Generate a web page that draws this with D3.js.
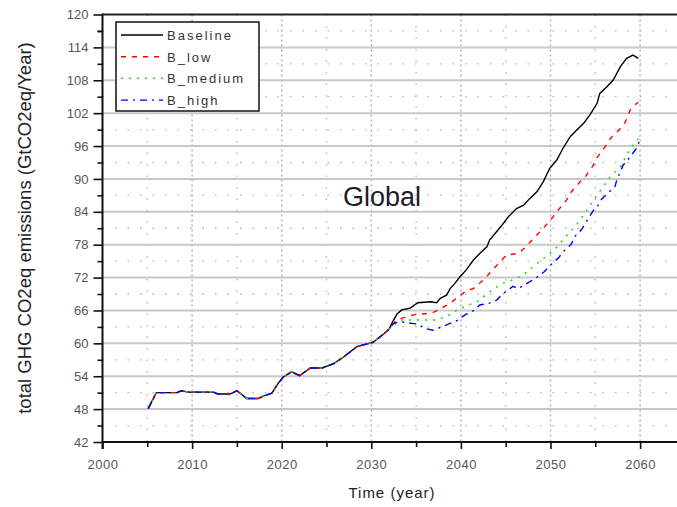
<!DOCTYPE html>
<html>
<head>
<meta charset="utf-8">
<script src="https://cdn.jsdelivr.net/npm/d3@7"></script>
<style>
  html, body { margin: 0; padding: 0; background: #fff; }
  svg { display: block; font-family: "Liberation Sans", Arial, sans-serif; }
</style>
</head>
<body>
<svg id="chart" width="677" height="507"></svg>
<script>
// ---------- data ----------
const historyYears  = [2005.1, 2006.0, 2008.3, 2008.8, 2009.6, 2012.4, 2012.9, 2014.2, 2015.0, 2016.1, 2017.4, 2018.0, 2018.9, 2019.6, 2020.2, 2021.1, 2022.0, 2023.2, 2024.5, 2025.8, 2026.9, 2028.4, 2030.2, 2031.3, 2032.0];
const historyValues = [48.1, 51.0, 51.0, 51.35, 51.1, 51.1, 50.75, 50.75, 51.35, 49.95, 49.95, 50.4, 50.9, 52.7, 53.9, 54.8, 54.1, 55.5, 55.5, 56.3, 57.5, 59.4, 60.2, 61.6, 62.6];

const baselineYears  = [2032.4, 2032.9, 2033.4, 2034.3, 2035.2, 2036.6, 2037.3, 2037.7, 2038.4, 2038.8, 2039.3, 2039.9, 2040.6, 2041.4, 2042.1, 2042.9, 2043.2, 2044.0, 2044.6, 2045.3, 2046.2, 2047.0, 2047.7, 2048.5, 2049.2, 2049.9, 2050.7, 2051.4, 2052.2, 2052.9, 2053.7, 2054.4, 2055.2, 2055.5, 2056.3, 2057.0, 2057.8, 2058.5, 2059.2, 2059.8];
const baselineValues = [64.0, 65.4, 66.1, 66.4, 67.4, 67.6, 67.4, 68.2, 68.8, 70.0, 70.9, 72.15, 73.4, 75.2, 76.4, 77.6, 78.85, 80.4, 81.6, 83.1, 84.6, 85.2, 86.45, 87.7, 89.5, 91.9, 93.45, 95.6, 97.7, 98.9, 100.15, 101.7, 103.8, 105.6, 106.8, 108.05, 110.5, 112.0, 112.6, 112.0];

const lowYears  = [2032.8, 2034.7, 2035.2, 2036.7, 2037.5, 2038.8, 2039.5, 2040.6, 2041.4, 2042.7, 2043.2, 2044.55, 2045.1, 2046.4, 2047.1, 2048.5, 2049.2, 2050.3, 2050.7, 2051.8, 2052.2, 2053.3, 2053.85, 2054.8, 2055.2, 2056.1, 2056.7, 2057.8, 2058.35, 2058.9, 2059.4, 2059.8];
const lowValues = [64.3, 65.2, 65.3, 65.5, 66.1, 67.3, 68.2, 69.6, 70.0, 71.85, 72.8, 75.2, 76.1, 76.4, 77.4, 79.8, 81.0, 83.1, 84.0, 86.15, 87.4, 89.5, 90.3, 92.55, 93.9, 95.9, 97.4, 99.2, 100.4, 102.6, 103.5, 104.0];

const mediumYears  = [2033.2, 2034.5, 2035.8, 2037.1, 2038.4, 2039.7, 2041.9, 2043.2, 2044.55, 2045.8, 2047.0, 2048.3, 2050.4, 2053.2, 2054.0, 2054.9, 2056.7, 2057.9, 2058.5, 2059.3, 2059.9];
const mediumValues = [64.25, 64.25, 64.25, 64.25, 64.85, 66.2, 67.7, 69.4, 70.9, 71.6, 72.55, 74.3, 77.0, 82.2, 84.2, 86.3, 90.5, 92.4, 94.4, 96.4, 97.5];

const highYears  = [2032.45, 2033.2, 2035.2, 2036.0, 2036.9, 2037.7, 2038.6, 2039.7, 2040.45, 2041.4, 2042.1, 2043.1, 2044.0, 2044.7, 2045.8, 2046.4, 2048.3, 2049.3, 2050.0, 2050.9, 2051.4, 2052.3, 2052.7, 2053.5, 2054.0, 2054.8, 2055.2, 2055.7, 2056.6, 2057.2, 2057.4, 2057.8, 2058.1, 2058.9, 2059.6, 2059.9];
const highValues = [63.6, 63.95, 63.5, 62.7, 62.4, 62.9, 63.5, 64.25, 65.2, 65.95, 67.0, 67.3, 67.9, 69.05, 70.4, 70.0, 71.85, 73.05, 74.3, 75.6, 76.7, 78.05, 79.45, 80.85, 82.2, 84.3, 84.9, 86.3, 87.7, 88.6, 89.8, 91.3, 92.5, 94.05, 95.6, 96.8];

const seriesNames  = ["Baseline", "B_low", "B_medium", "B_high"];
const seriesColors = ["#000000", "#ff0000", "#00dd00", "#0000ff"];
const seriesDashes = [null, "5,6", "2,6", "7,5,2,5"];

const xTickLabels = [2000, 2010, 2020, 2030, 2040, 2050, 2060];
const yTickLabels = [42, 48, 54, 60, 66, 72, 78, 84, 90, 96, 102, 108, 114, 120];

const chartTitle = "Global";
const xTitle = "Time (year)";
const yTitle = "total GHG CO2eq emissions (GtCO2eq/Year)";

// ---------- build ----------
const svg = d3.select("#chart");
const L = 102.5, T = 14.5, B = 442;
const x = d3.scaleLinear().domain([2000, 2065]).range([L, L + 65 * 8.96]);
const y = d3.scaleLinear().domain([42, 120]).range([B, T]);

const seriesYears = [baselineYears, lowYears, mediumYears, highYears];
const seriesVals  = [baselineValues, lowValues, mediumValues, highValues];
const series = seriesNames.map((n, i) => ({
  name: n,
  color: seriesColors[i],
  dash: seriesDashes[i],
  points: historyYears.map((yr, j) => [yr, historyValues[j]])
    .concat(seriesYears[i].map((yr, j) => [yr, seriesVals[i][j]]))
}));

// grid
const g = svg.append("g");
const minorY = d3.range(45, 120, 6);
const majorY = d3.range(48, 120, 6);
const majorX = d3.range(2010, 2061, 10);
const minorX = d3.range(2005, 2066, 10);

g.selectAll(".hminor").data(minorY).join("line")
  .attr("x1", L).attr("x2", 677).attr("y1", d => y(d)).attr("y2", d => y(d))
  .attr("stroke", "#b4b4b4").attr("stroke-width", 1.3).attr("stroke-dasharray", "1.5,11");
g.selectAll(".vminor").data(minorX).join("line")
  .attr("x1", d => x(d)).attr("x2", d => x(d)).attr("y1", T).attr("y2", B)
  .attr("stroke", "#b4b4b4").attr("stroke-width", 1.3).attr("stroke-dasharray", "1.5,10");
g.selectAll(".vmajor").data(majorX).join("line")
  .attr("x1", d => x(d)).attr("x2", d => x(d)).attr("y1", T).attr("y2", B)
  .attr("stroke", "#b4b4b4").attr("stroke-width", 1.5).attr("stroke-dasharray", "2,3");
g.selectAll(".hmajor").data(majorY).join("line")
  .attr("x1", L).attr("x2", 677).attr("y1", d => y(d)).attr("y2", d => y(d))
  .attr("stroke", "#c8c8c8").attr("stroke-width", 2);

// series
const line = d3.line().x(d => x(d[0])).y(d => y(d[1]));
svg.append("g").selectAll("path").data(series).join("path")
  .attr("d", d => line(d.points))
  .attr("fill", "none")
  .attr("stroke", d => d.color)
  .attr("stroke-width", 1.4)
  .attr("stroke-dasharray", d => d.dash);

// axes
const yAxis = d3.axisLeft(y).tickValues(yTickLabels).tickSize(9).tickPadding(5).tickFormat(d3.format("d"));
const yAxisMinor = d3.axisLeft(y).tickValues(minorY.concat([117])).tickSize(5).tickFormat("");
const xAxis = d3.axisBottom(x).tickValues(xTickLabels).tickSize(7).tickPadding(11).tickFormat(d3.format("d"));
const xAxisMinor = d3.axisBottom(x).tickValues(minorX).tickSize(5).tickFormat("");

function styleAxis(sel) {
  sel.select(".domain").remove();
  sel.selectAll("line").attr("stroke", "#111").attr("stroke-width", 1.6);
  sel.selectAll("text").attr("fill", "#555").style("font-size", "13px")
     .style("font-family", "'Liberation Sans', Arial, sans-serif");
}
svg.append("g").attr("transform", `translate(${L},0)`).call(yAxis).call(styleAxis);
svg.append("g").attr("transform", `translate(${L},0)`).call(yAxisMinor).call(styleAxis);
svg.append("g").attr("transform", `translate(0,${B})`).call(xAxis).call(styleAxis)
   .selectAll("text").style("letter-spacing", "0.5px");
svg.append("g").attr("transform", `translate(0,${B})`).call(xAxisMinor).call(styleAxis);

// frame lines
svg.append("line").attr("x1", L).attr("x2", L).attr("y1", T - 1).attr("y2", B + 7)
  .attr("stroke", "#111").attr("stroke-width", 2);
svg.append("line").attr("x1", L).attr("x2", 677).attr("y1", B).attr("y2", B)
  .attr("stroke", "#111").attr("stroke-width", 2);
svg.append("line").attr("x1", L).attr("x2", 677).attr("y1", T).attr("y2", T)
  .attr("stroke", "#222").attr("stroke-width", 2);

// titles
svg.append("text").attr("x", 392).attr("y", 498).attr("text-anchor", "middle")
  .style("font-size", "15px").style("letter-spacing", "1px").attr("fill", "#222").text(xTitle);
svg.append("text").attr("transform", "translate(31,228) rotate(-90)").attr("text-anchor", "middle")
  .style("font-size", "18.5px").attr("fill", "#222").text(yTitle);
svg.append("text").attr("x", 343).attr("y", 206)
  .style("font-size", "27px").attr("fill", "#1c1c2a").text(chartTitle);

// legend
const lg = svg.append("g");
lg.append("rect").attr("x", 116).attr("y", 22).attr("width", 143).attr("height", 89)
  .attr("fill", "#fff").attr("stroke", "#111").attr("stroke-width", 1.5);
const rows = lg.selectAll("g.row").data(series).join("g")
  .attr("transform", (d, i) => `translate(0,${35 + i * 21.7})`);
rows.append("line").attr("x1", 121).attr("x2", 163).attr("y1", 0).attr("y2", 0)
  .attr("stroke", d => d.color).attr("stroke-width", 1.4).attr("stroke-dasharray", d => d.dash);
rows.append("text").attr("x", 167).attr("y", 5).style("font-size", "13px")
  .style("letter-spacing", "2px").attr("fill", "#333").text(d => d.name);
</script>
</body>
</html>
